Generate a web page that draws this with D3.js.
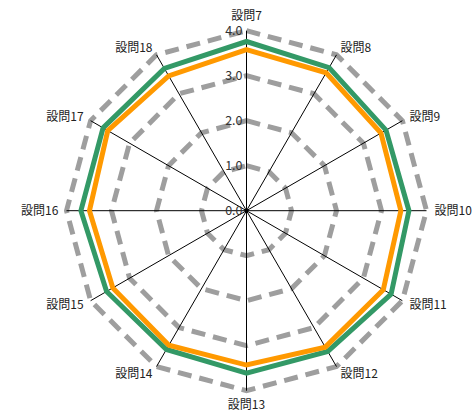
<!DOCTYPE html>
<html><head><meta charset="utf-8">
<script src="https://cdn.jsdelivr.net/npm/d3@7/dist/d3.min.js"></script>
<style>body{margin:0;background:#fff}svg{display:block}</style>
</head><body>
<svg id="c" width="476" height="413"></svg>
<script>
const categories = ["設問7","設問8","設問9","設問10","設問11","設問12","設問13","設問14","設問15","設問16","設問17","設問18"];
const seriesGreen = [3.76,3.67,3.58,3.61,3.71,3.61,3.61,3.56,3.59,3.68,3.68,3.65];
const seriesOrange = [3.58,3.54,3.45,3.43,3.51,3.50,3.43,3.45,3.43,3.49,3.56,3.46];
const tickValues = [0,1,2,3,4];
const tickLabels = ["0.0","1.0","2.0","3.0","4.0"];

const svg = d3.select("#c");
const cx = 246.5, cy = 210.7, R = 180;
const r = d3.scaleLinear().domain([0,4]).range([0,R]);
const ang = d3.scaleLinear().domain([0,categories.length]).range([0,2*Math.PI]);
const g = svg.append("g").attr("transform",`translate(${cx},${cy})`);
const pt = (i,v)=>[Math.sin(ang(i))*r(v), -Math.cos(ang(i))*r(v)];
const font = "'Noto Sans CJK JP','Noto Sans',sans-serif";

// grid rings
tickValues.filter(t=>t>0).forEach(t=>{
  g.append("path")
    .attr("d", d3.line()(categories.map((c,i)=>pt(i,t))) + "Z")
    .attr("fill","none").attr("stroke","#9e9e9e").attr("stroke-width",5)
    .attr("stroke-dasharray","14,8");
});
// axes
categories.forEach((c,i)=>{
  const p = pt(i,4);
  g.append("line").attr("x1",0).attr("y1",0).attr("x2",p[0]).attr("y2",p[1])
    .attr("stroke","#000").attr("stroke-width",1);
});
g.append("circle").attr("r",2).attr("fill","#000");

// series
const radial = d3.lineRadial().angle((d,i)=>ang(i)).radius(d=>r(d)).curve(d3.curveLinearClosed);
g.append("path").attr("d",radial(seriesGreen)).attr("fill","none")
  .attr("stroke","#339966").attr("stroke-width",5).attr("stroke-linejoin","miter");
g.append("path").attr("d",radial(seriesOrange)).attr("fill","none")
  .attr("stroke","#ff9900").attr("stroke-width",5).attr("stroke-linejoin","miter");

// tick labels
tickValues.forEach((t,k)=>{
  g.append("text").attr("x",-4).attr("y",-r(t)).attr("dy","0.35em")
    .attr("text-anchor","end").attr("font-family",font).attr("font-size",12.5)
    .attr("fill","#333").text(tickLabels[k]);
});

// category labels
categories.forEach((c,i)=>{
  const p = pt(i,4.18);
  const sx = Math.sin(ang(i));
  let anchor = Math.abs(sx)<0.01 ? "middle" : (sx>0 ? "start":"end");
  let dy = "0.35em";
  if(i===0) dy = "-0.25em";
  if(i===6) dy = "0.85em";
  g.append("text").attr("x",p[0]).attr("y",p[1]).attr("dy",dy)
    .attr("text-anchor",anchor).attr("font-family",font).attr("font-size",12)
    .attr("fill","#222").text(c);
});
</script>
</body></html>
